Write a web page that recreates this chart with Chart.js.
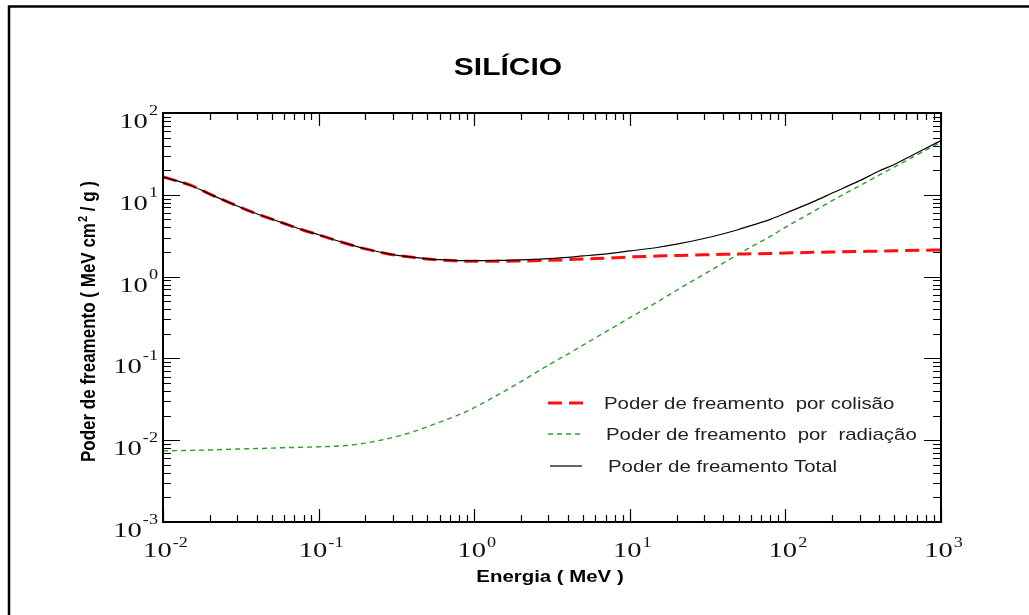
<!DOCTYPE html>
<html>
<head>
<meta charset="utf-8">
<script src="https://cdn.jsdelivr.net/npm/chart.js@4"></script>
<style>
  html, body { margin: 0; padding: 0; background: #fff; }
  #wrap { width: 1029px; height: 615px; position: relative; }
</style>
</head>
<body>
<div id="wrap"><canvas id="chart" width="1029" height="615"></canvas></div>
<script>
// energia (MeV)
const energia = [0.01, 0.015, 0.02, 0.03, 0.04, 0.05, 0.06, 0.08, 0.1, 0.15, 0.2, 0.3, 0.4, 0.5, 0.6, 0.8,
  1, 1.5, 2, 3, 4, 5, 6, 8, 10, 15, 20, 30, 40, 50, 60, 80, 100, 150, 200, 300, 400, 500, 600, 800, 1000];

// poder de freamento (MeV cm2/g)
const colisao = [16.5, 13.1, 10.2, 7.3, 5.85, 5.04, 4.46, 3.69, 3.24, 2.54, 2.18, 1.85, 1.72, 1.64, 1.59, 1.55,
  1.54, 1.54, 1.55, 1.58, 1.61, 1.64, 1.66, 1.70, 1.74, 1.78, 1.81, 1.85, 1.87, 1.89, 1.90, 1.92, 1.94, 1.98, 2.0, 2.03, 2.05, 2.07, 2.08, 2.10, 2.12];
const radiacao = [0.0074, 0.0075, 0.0076, 0.0078, 0.0079, 0.0080, 0.0081, 0.0082, 0.0083, 0.0086, 0.0092, 0.0108, 0.0126, 0.0146, 0.0166, 0.0205,
  0.0250, 0.0380, 0.052, 0.083, 0.113, 0.145, 0.178, 0.245, 0.315, 0.49, 0.68, 1.07, 1.47, 1.88, 2.3, 3.1, 4.0, 6.2, 8.5, 12.9, 17.4, 21.8, 26.3, 35.2, 44];
const total = [16.5, 13.1, 10.2, 7.3, 5.86, 5.05, 4.47, 3.70, 3.25, 2.55, 2.19, 1.86, 1.73, 1.65, 1.61, 1.57,
  1.565, 1.58, 1.60, 1.66, 1.72, 1.79, 1.84, 1.95, 2.06, 2.27, 2.49, 2.92, 3.34, 3.77, 4.2, 5.0, 5.94, 8.2, 10.5, 14.9, 19.5, 23.5, 28.0, 37.0, 46];

const xDecadas = [-2, -1, 0, 1, 2, 3];
const yDecadas = [-3, -2, -1, 0, 1, 2];

const titulo = 'SILÍCIO';
const tituloX = 'Energia ( MeV )';
const legendas = ['Poder de freamento  por colisão', 'Poder de freamento  por  radiação', 'Poder de freamento Total'];

const pts = (ys) => energia.map((e, i) => ({ x: e, y: ys[i] }));

// text helper, the source picture is stretched horizontally
function texto(ctx, str, x, y, font, align, sx) {
  ctx.save();
  ctx.font = font;
  const w = ctx.measureText(str).width * sx;
  let left = x;
  if (align === 'center') left = x - w / 2;
  if (align === 'right') left = x - w;
  ctx.translate(left, y);
  ctx.scale(sx, 1);
  ctx.textAlign = 'left';
  ctx.textBaseline = 'alphabetic';
  ctx.fillText(str, 0, 0);
  ctx.restore();
  return w;
}

function potencia(ctx, exp, x, y, align, raise) {
  const sx = 1.3;
  const fBase = '22px "Liberation Serif", "Times New Roman", serif';
  const fExp = '14px "Liberation Serif", "Times New Roman", serif';
  ctx.font = fBase;
  const w1 = ctx.measureText('10').width * sx;
  ctx.font = fExp;
  const w2 = ctx.measureText(String(exp)).width * sx;
  let left = x;
  if (align === 'center') left = x - (w1 + w2) / 2;
  if (align === 'right') left = x - (w1 + w2);
  texto(ctx, '10', left, y, fBase, 'left', sx);
  texto(ctx, String(exp), left + w1 + 1, y - raise, fExp, 'left', sx);
}

const molduraPlugin = {
  id: 'moldura',
  afterDraw(chart) {
    const ctx = chart.ctx;
    const a = chart.chartArea;
    const xs = chart.scales.x, ys = chart.scales.y;
    ctx.save();
    ctx.fillStyle = '#000';
    ctx.strokeStyle = '#000';

    // outer frame (top and left)
    ctx.lineWidth = 2.5;
    ctx.beginPath();
    ctx.moveTo(1029, 6.5);
    ctx.lineTo(9, 6.5);
    ctx.lineTo(9, 615);
    ctx.stroke();

    // plot frame
    ctx.lineWidth = 2;
    ctx.strokeRect(a.left, a.top, a.right - a.left, a.bottom - a.top);

    // ticks
    ctx.lineWidth = 1.2;
    ctx.beginPath();
    xDecadas.forEach((d, i) => {
      for (let m = 1; m <= 9; m++) {
        if (m > 1 && i === xDecadas.length - 1) break;
        const px = Math.round(xs.getPixelForValue(m * Math.pow(10, d))) + 0.5;
        const len = m === 1 ? 13 : 7;
        ctx.moveTo(px, a.bottom); ctx.lineTo(px, a.bottom - len);
        ctx.moveTo(px, a.top); ctx.lineTo(px, a.top + len);
      }
    });
    yDecadas.forEach((d, i) => {
      for (let m = 1; m <= 9; m++) {
        if (m > 1 && i === yDecadas.length - 1) break;
        const py = Math.round(ys.getPixelForValue(m * Math.pow(10, d))) + 0.5;
        const len = m === 1 ? 17 : 8;
        ctx.moveTo(a.left, py); ctx.lineTo(a.left + len, py);
        ctx.moveTo(a.right, py); ctx.lineTo(a.right - len, py);
      }
    });
    ctx.stroke();

    // tick labels
    ctx.fillStyle = '#111';
    xDecadas.forEach((d) => {
      potencia(ctx, d, xs.getPixelForValue(Math.pow(10, d)) + 2, 557, 'center', 10);
    });
    yDecadas.forEach((d) => {
      const py = ys.getPixelForValue(Math.pow(10, d));
      potencia(ctx, d, a.left - 6, py + 15, 'right', 13);
    });

    // titles
    ctx.fillStyle = '#000';
    texto(ctx, titulo, 508, 75, 'bold 24px "Liberation Sans", Arial, sans-serif', 'center', 1.25);
    texto(ctx, tituloX, 550, 582, 'bold 17px "Liberation Sans", Arial, sans-serif', 'center', 1.2);

    // y title, rotated, with superscript 2
    ctx.save();
    ctx.translate(95, 322);
    ctx.rotate(-Math.PI / 2);
    ctx.scale(1, 1.2);
    const fT = 'bold 17px "Liberation Sans", Arial, sans-serif';
    const fS = 'bold 11px "Liberation Sans", Arial, sans-serif';
    const p1 = 'Poder de freamento ( MeV cm', p2 = '2', p3 = ' / g )';
    ctx.font = fT;
    const w1 = ctx.measureText(p1).width, w3 = ctx.measureText(p3).width;
    ctx.font = fS;
    const w2 = ctx.measureText(p2).width;
    let lx = -(w1 + w2 + w3) / 2;
    ctx.textBaseline = 'alphabetic';
    ctx.font = fT; ctx.fillText(p1, lx, 0); lx += w1;
    ctx.font = fS; ctx.fillText(p2, lx + 1, -7); lx += w2 + 1;
    ctx.font = fT; ctx.fillText(p3, lx, 0);
    ctx.restore();

    // legend
    const ds = chart.data.datasets;
    const rows = [
      { y: 403, x0: 548, x1: 583, tx: 604 },
      { y: 434, x0: 548, x1: 580, tx: 606 },
      { y: 466, x0: 550, x1: 582, tx: 608 }
    ];
    rows.forEach((r, i) => {
      const d = ds[i];
      ctx.save();
      ctx.strokeStyle = d.borderColor;
      ctx.lineWidth = d.borderWidth;
      ctx.setLineDash(d.borderDash || []);
      ctx.beginPath();
      ctx.moveTo(r.x0, r.y); ctx.lineTo(r.x1, r.y);
      ctx.stroke();
      ctx.restore();
      ctx.fillStyle = '#222';
      texto(ctx, legendas[i], r.tx, r.y + 6, '17px "Liberation Sans", Arial, sans-serif', 'left', 1.2);
    });
    ctx.restore();
  }
};

new Chart(document.getElementById('chart'), {
  type: 'line',
  data: {
    datasets: [
      { label: legendas[0], data: pts(colisao), borderColor: '#ff1010', borderWidth: 3, borderDash: [14, 7], order: 1 },
      { label: legendas[1], data: pts(radiacao), borderColor: '#2e9e2e', borderWidth: 1.4, borderDash: [5, 4], order: 2 },
      { label: legendas[2], data: pts(total), borderColor: '#000000', borderWidth: 1.2, order: 0 }
    ]
  },
  options: {
    responsive: false,
    animation: false,
    layout: { padding: { left: 163, top: 113, right: 88, bottom: 93 } },
    elements: { point: { radius: 0 }, line: { cubicInterpolationMode: 'monotone', fill: false } },
    plugins: { legend: { display: false }, tooltip: { enabled: false } },
    scales: {
      x: {
        type: 'logarithmic', min: 0.01, max: 1000,
        ticks: { display: false }, grid: { display: false, drawTicks: false }, border: { display: false },
        afterFit: (s) => { s.height = 0; }
      },
      y: {
        type: 'logarithmic', min: 0.001, max: 100,
        ticks: { display: false }, grid: { display: false, drawTicks: false }, border: { display: false },
        afterFit: (s) => { s.width = 0; }
      }
    }
  },
  plugins: [molduraPlugin]
});
</script>
</body>
</html>
